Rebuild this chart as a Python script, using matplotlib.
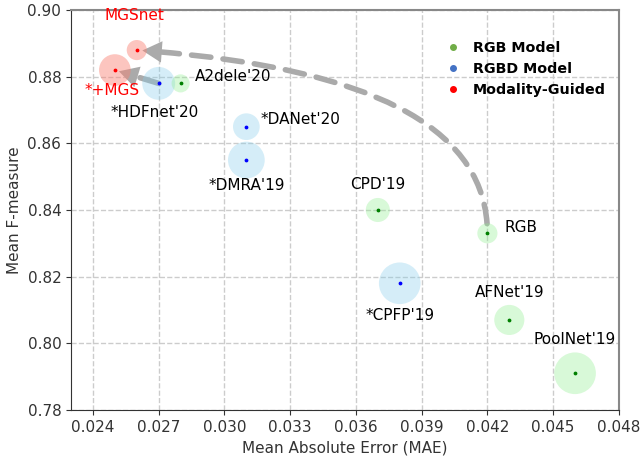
import matplotlib.pyplot as plt
from matplotlib.lines import Line2D

# data
names = ["MGSnet", "*+MGS", "*HDFnet'20", "A2dele'20", "*DANet'20", "*DMRA'19",
         "CPD'19", "RGB", "*CPFP'19", "AFNet'19", "PoolNet'19"]
mae = [0.026, 0.025, 0.027, 0.028, 0.031, 0.031, 0.037, 0.042, 0.038, 0.043, 0.046]
fmeasure = [0.888, 0.882, 0.878, 0.878, 0.865, 0.855, 0.840, 0.833, 0.818, 0.807, 0.791]
kind = ["mg", "mg", "rgbd", "rgb", "rgbd", "rgbd", "rgb", "rgb", "rgbd", "rgb", "rgb"]
bubble = [210, 520, 560, 170, 370, 700, 300, 210, 900, 470, 900]

# label offsets (points) and alignment
offsets = [(-2, 25), (-2, -15), (-3, -21), (10, 5), (10, 5), (0, -18),
           (0, 18), (12, 4), (0, -23), (0, 20), (0, 24)]
ha = ["center", "center", "center", "left", "left", "center",
      "center", "left", "center", "center", "center"]

fill = {"rgb": "#90ee90", "rgbd": "#87ceeb", "mg": "salmon"}
alpha = {"rgb": 0.35, "rgbd": 0.35, "mg": 0.45}
dot = {"rgb": "green", "rgbd": "blue", "mg": "red"}
txt = {"rgb": "black", "rgbd": "black", "mg": "red"}

fig, ax = plt.subplots(figsize=(6.4, 4.58), dpi=100)

for i in range(len(names)):
    k = kind[i]
    ax.scatter(mae[i], fmeasure[i], s=bubble[i], color=fill[k], alpha=alpha[k],
               edgecolors='none', zorder=2)
    ax.scatter(mae[i], fmeasure[i], s=3, color=dot[k], zorder=3)
    ax.annotate(names[i], (mae[i], fmeasure[i]), xytext=offsets[i],
                textcoords='offset points', ha=ha[i], va='center',
                fontsize=11, color=txt[k], zorder=4)


def dashed_arrow(src, dst, conn, sa, sb):
    # dashed shaft, then a solid head along the same path
    ax.annotate('', xy=(mae[dst], fmeasure[dst]), xytext=(mae[src], fmeasure[src]),
                arrowprops=dict(arrowstyle='-', lw=4, ls=(0, (3.5, 2.2)),
                                color='#aaaaaa', connectionstyle=conn,
                                shrinkA=sa, shrinkB=sb + 8), zorder=1)
    ax.annotate('', xy=(mae[dst], fmeasure[dst]), xytext=(mae[src], fmeasure[src]),
                arrowprops=dict(arrowstyle='-|>,head_width=0.55,head_length=1.0',
                                lw=0, color='#aaaaaa', connectionstyle=conn,
                                shrinkA=sa, shrinkB=sb, mutation_scale=14), zorder=1)


dashed_arrow(7, 0, 'angle3,angleA=90,angleB=-4', 7, 4)
dashed_arrow(2, 1, 'arc3,rad=0', 0, 3)

ax.set_xlim(0.023, 0.048)
ax.set_ylim(0.78, 0.90)
ax.set_xticks([0.024, 0.027, 0.030, 0.033, 0.036, 0.039, 0.042, 0.045, 0.048])
ax.set_yticks([0.78, 0.80, 0.82, 0.84, 0.86, 0.88, 0.90])
ax.xaxis.set_major_formatter(plt.FormatStrFormatter('%.3f'))
ax.yaxis.set_major_formatter(plt.FormatStrFormatter('%.2f'))
ax.tick_params(labelsize=11, colors='#333333')
ax.grid(True, ls='--', color='#cccccc', lw=1)
ax.set_axisbelow(True)
ax.set_xlabel('Mean Absolute Error (MAE)', fontsize=11, color='#333333')
ax.set_ylabel('Mean F-measure', fontsize=11, color='#333333')
for side in ['top', 'right']:
    ax.spines[side].set_color('#888888')
    ax.spines[side].set_linewidth(1.5)
for side in ['left', 'bottom']:
    ax.spines[side].set_color('#333333')

handles = [Line2D([], [], ls='none', marker='o', ms=4, color='#70ad47'),
           Line2D([], [], ls='none', marker='o', ms=4, color='#4472c4'),
           Line2D([], [], ls='none', marker='o', ms=4, color='red')]
ax.legend(handles, ['RGB Model', 'RGBD Model', 'Modality-Guided'], frameon=False,
          loc='upper right', bbox_to_anchor=(1.0, 0.955),
          prop={'weight': 'bold', 'size': 10.3}, handlelength=1.0,
          handletextpad=0.9, labelspacing=0.5)

plt.subplots_adjust(left=0.111, right=0.967, top=0.978, bottom=0.105)
plt.savefig('out.png')
